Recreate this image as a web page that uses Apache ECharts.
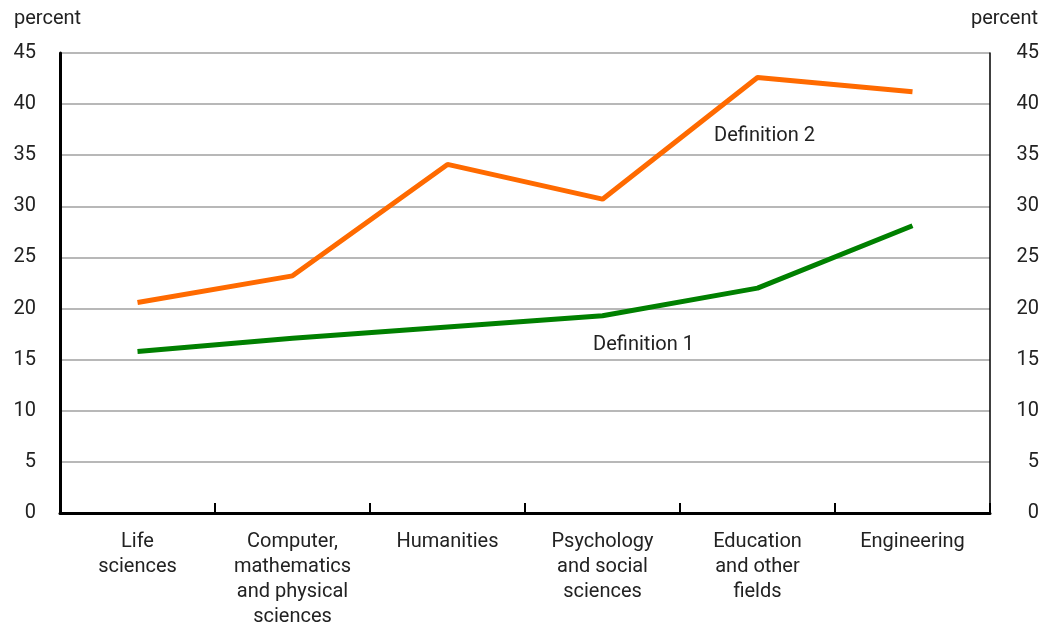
<!DOCTYPE html>
<html>
<head>
<meta charset="utf-8">
<script src="https://cdn.jsdelivr.net/npm/echarts@6/dist/echarts.min.js"></script>
<style>html,body{margin:0;padding:0;background:#fff}#c{width:1052px;height:629px}</style>
</head>
<body>
<div id="c"></div>
<script>
const categories = ['Life\nsciences', 'Computer,\nmathematics\nand physical\nsciences', 'Humanities', 'Psychology\nand social\nsciences', 'Education\nand other\nfields', 'Engineering'];
const definition1 = [15.8, 17.1, 18.2, 19.3, 22.0, 28.1];
const definition2 = [20.6, 23.2, 34.1, 30.7, 42.6, 41.2];
const yTicks = [0, 5, 10, 15, 20, 25, 30, 35, 40, 45];

const FONT = 'Roboto, sans-serif';
const FS = 20;
const TXT = '#222';
const chart = echarts.init(document.getElementById('c'));
const yBase = {
  type: 'value', min: yTicks[0], max: yTicks[yTicks.length - 1], interval: yTicks[1] - yTicks[0],
  axisTick: { show: false },
  splitLine: { show: false }
};
chart.setOption({
  animation: false,
  textStyle: { fontFamily: FONT },
  title: [
    { text: 'percent', left: 9, top: 4, textStyle: { fontFamily: FONT, fontSize: FS, fontWeight: 'normal', color: TXT } },
    { text: 'percent', right: 9, top: 4, textStyle: { fontFamily: FONT, fontSize: FS, fontWeight: 'normal', color: TXT } }
  ],
  grid: { left: 60, right: 62, top: 53, bottom: 114, containLabel: false },
  xAxis: [{
    type: 'category', data: categories, boundaryGap: true,
    axisLine: { lineStyle: { color: '#000', width: 3 } },
    axisTick: { show: true, inside: true, length: 10, lineStyle: { color: '#000', width: 2 } },
    axisLabel: { interval: 0, margin: 16, fontFamily: FONT, fontSize: FS, color: TXT, lineHeight: 25, align: 'center', verticalAlign: 'top' },
    splitLine: { show: false }
  }, {
    type: 'category', data: categories, position: 'top',
    axisLine: { lineStyle: { color: '#000', width: 1.5 } },
    axisTick: { show: false }, axisLabel: { show: false }
  }],
  yAxis: [Object.assign({}, yBase, {
    position: 'left',
    axisLine: { show: true, lineStyle: { color: '#000', width: 3 } },
    axisLabel: { margin: 24, fontFamily: FONT, fontSize: FS, color: TXT, align: 'right', padding: [3, 0, 0, 0] },
    splitLine: { show: true, lineStyle: { color: '#a0a0a0', width: 1.5 } }
  }), Object.assign({}, yBase, {
    position: 'right',
    axisLine: { show: true, lineStyle: { color: '#000', width: 1.5 } },
    axisLabel: { margin: 49, fontFamily: FONT, fontSize: FS, color: TXT, align: 'right', padding: [3, 0, 0, 0] }
  })],
  series: [{
    name: 'Definition 1', type: 'line', data: definition1, symbol: 'none',
    lineStyle: { color: '#008000', width: 5 }, z: 3,
    markPoint: {
      symbol: 'circle', symbolSize: 0,
      data: [{ coord: [categories[3], 16.4], value: 'Definition 1' }],
      label: { show: true, position: 'inside', offset: [41, 0], formatter: 'Definition 1', fontFamily: FONT, fontSize: FS, color: TXT }
    }
  }, {
    name: 'Definition 2', type: 'line', data: definition2, symbol: 'none',
    lineStyle: { color: '#ff6a00', width: 5 }, z: 3,
    markPoint: {
      symbol: 'circle', symbolSize: 0,
      data: [{ coord: [categories[4], 36.9], value: 'Definition 2' }],
      label: { show: true, position: 'inside', offset: [7, 0], formatter: 'Definition 2', fontFamily: FONT, fontSize: FS, color: TXT }
    }
  }]
});
</script>
</body>
</html>
